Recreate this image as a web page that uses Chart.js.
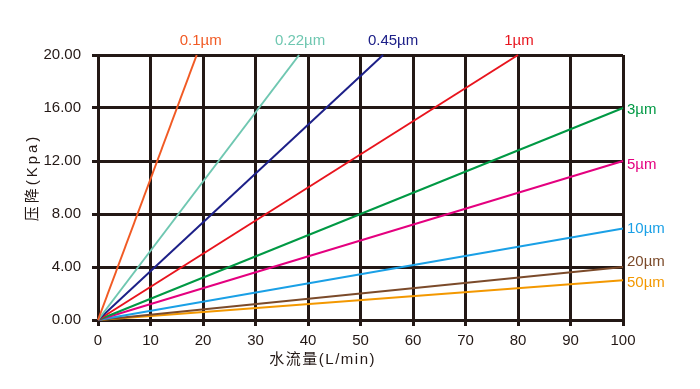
<!DOCTYPE html>
<html>
<head>
<meta charset="utf-8">
<script src="https://cdn.jsdelivr.net/npm/chart.js@4/dist/chart.umd.min.js"></script>
<style>
html,body{margin:0;padding:0;background:#fff;}
canvas{display:block;}
</style>
</head>
<body>
<canvas id="c" width="700" height="389"></canvas>
<script>
// ---- data ----
const seriesNames = ['0.1µm','0.22µm','0.45µm','1µm','3µm','5µm','10µm','20µm','50µm'];
const startFlow = [0,0,0,0,0,0,0,0,0];
const startDrop = [0,0,0,0,0,0,0,0,0];
const endFlow = [18.8, 38.3, 54.3, 80, 100, 100, 100, 100, 100];
const endDrop = [20, 20, 20, 20, 16, 12, 6.9, 4, 3];
const xTicks = [0,10,20,30,40,50,60,70,80,90,100];
const yTicks = [0,4,8,12,16,20];
const xTitle = '水流量(L/min)';
const yTitle = '压降(Kpa)';

// ---- styles ----
const colors = ['#f15a24','#6fc7b1','#1d2088','#e8141d','#009944','#e4007f','#1aa0e6','#7b4a2a','#f39800'];
const labelDx = [4, 1, 10, 1, 0, 0, 0, 0, 0];
const labelDy = [0, 0, 0, 0, 2, 4, 0, -5, 3];
const FONT = '"Liberation Sans", Arial, "Noto Sans CJK SC", sans-serif';
const gridColor = '#231815';

const datasets = seriesNames.map((name, i) => ({
  label: name,
  data: [{x: startFlow[i], y: startDrop[i]}, {x: endFlow[i], y: endDrop[i]}],
  borderColor: colors[i],
  backgroundColor: colors[i],
  borderWidth: 2,
  pointRadius: 0,
  fill: false,
  tension: 0,
  clip: false,
  labelDx: labelDx[i],
  labelDy: labelDy[i]
}));

const endLabels = {
  id: 'endLabels',
  afterDatasetsDraw(chart) {
    const ctx = chart.ctx;
    const ys = chart.scales.y;
    ctx.save();
    ctx.font = '15px ' + FONT;
    chart.data.datasets.forEach((ds, i) => {
      const meta = chart.getDatasetMeta(i);
      const pt = meta.data[meta.data.length - 1];
      ctx.fillStyle = ds.borderColor;
      const last = ds.data[ds.data.length - 1];
      if (last.y >= ys.max) {
        ctx.textAlign = 'center';
        ctx.textBaseline = 'middle';
        ctx.fillText(ds.label, pt.x + ds.labelDx, pt.y - 14);
      } else {
        ctx.textAlign = 'left';
        ctx.textBaseline = 'middle';
        ctx.fillText(ds.label, pt.x + 4 + ds.labelDx, pt.y + ds.labelDy);
      }
    });
    ctx.restore();
  }
};

const axisTitles = {
  id: 'axisTitles',
  afterDraw(chart) {
    const ctx = chart.ctx;
    const a = chart.chartArea;
    ctx.save();
    ctx.fillStyle = '#231815';
    ctx.font = '15px ' + FONT;
    ctx.textBaseline = 'middle';
    ctx.textAlign = 'center';
    ctx.letterSpacing = '1.5px';
    ctx.fillText(xTitle, a.left + (a.right - a.left) * 0.428, a.bottom + 40);
    ctx.translate(a.left - 65, (a.top + a.bottom) / 2 - 10);
    ctx.rotate(-Math.PI / 2);
    ctx.letterSpacing = '3px';
    ctx.fillText(yTitle, 0, 0);
    ctx.restore();
  }
};

new Chart(document.getElementById('c'), {
  type: 'line',
  data: { datasets },
  options: {
    responsive: false,
    animation: false,
    events: [],
    layout: { padding: { top: 55, right: 77, left: 0, bottom: 0 } },
    plugins: { legend: { display: false }, tooltip: { enabled: false } },
    scales: {
      x: {
        type: 'linear',
        min: xTicks[0], max: xTicks[xTicks.length - 1],
        afterBuildTicks: s => { s.ticks = xTicks.map(v => ({value: v})); },
        afterFit: s => { s.height = 69; },
        grid: { color: gridColor, lineWidth: 3, tickLength: 6, drawTicks: true },
        border: { display: true, color: gridColor, width: 3 },
        ticks: { color: '#231815', font: { size: 15, family: FONT }, padding: 6, maxRotation: 0, callback: v => String(v) }
      },
      y: {
        type: 'linear',
        min: yTicks[0], max: yTicks[yTicks.length - 1],
        afterBuildTicks: s => { s.ticks = yTicks.map(v => ({value: v})); },
        afterFit: s => { s.width = 98; },
        grid: { color: gridColor, lineWidth: 3, tickLength: 6, drawTicks: true },
        border: { display: true, color: gridColor, width: 3 },
        ticks: { color: '#231815', font: { size: 15, family: FONT }, padding: 11, callback: v => Number(v).toFixed(2) }
      }
    }
  },
  plugins: [endLabels, axisTitles]
});
</script>
</body>
</html>
